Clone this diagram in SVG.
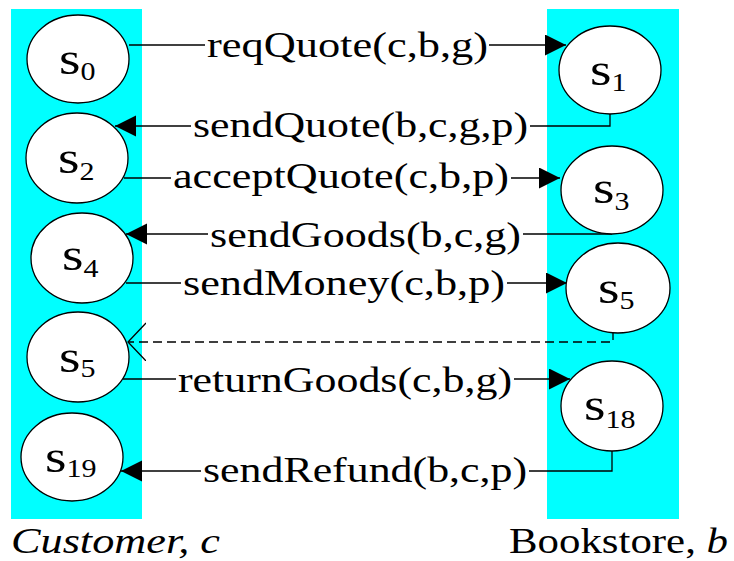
<svg xmlns="http://www.w3.org/2000/svg" width="734" height="561" viewBox="0 0 734 561" font-family="'Liberation Serif', 'Times New Roman', serif">
  <style>
    .lane { fill: #00ffff; }
    .state { fill: #ffffff; stroke: #000000; stroke-width: 1.3; }
    .sv { font-family: 'Liberation Serif', 'Times New Roman', serif; font-size: 46px; fill: #000; }
    .sub { font-size: 25px; }
    .lbl { font-family: 'Liberation Serif', 'Times New Roman', serif; font-size: 36px; fill: #000; }
    .edge { fill: none; stroke: #000000; stroke-width: 1.3; }
    .dash { stroke-dasharray: 9 5; }
  </style>
  <defs>
    <marker id="solidHead" markerUnits="userSpaceOnUse" markerWidth="22" markerHeight="22" refX="21" refY="10.5" orient="auto">
      <path d="M0,0 L21,10.5 L0,21 Z" fill="#000"/>
    </marker>
    <marker id="openHead" markerUnits="userSpaceOnUse" markerWidth="22" markerHeight="40" refX="18" refY="19" orient="auto">
      <path d="M0,0 L18,19 L0,38" fill="none" stroke="#000" stroke-width="1.3" stroke-dasharray="none"/>
    </marker>
  </defs>

  <!-- swim lanes -->
  <rect class="lane" x="11" y="9" width="131" height="510"/>
  <rect class="lane" x="547" y="9" width="132" height="510"/>

  <!-- messages -->
  <g id="connectors">
    <path class="edge" d="M129,45 H205"/>
    <path class="edge" d="M489,45 H566" marker-end="url(#solidHead)"/>
    <text class="lbl" x="207" y="57" textLength="281" lengthAdjust="spacingAndGlyphs">reqQuote(c,b,g)</text>

    <path class="edge" d="M610,114 V126 H530"/>
    <path class="edge" d="M191,126 H115" marker-end="url(#solidHead)"/>
    <text class="lbl" x="193" y="137" textLength="335" lengthAdjust="spacingAndGlyphs">sendQuote(b,c,g,p)</text>

    <path class="edge" d="M124,178 H171"/>
    <path class="edge" d="M511,178 H560" marker-end="url(#solidHead)"/>
    <text class="lbl" x="173" y="188" textLength="336" lengthAdjust="spacingAndGlyphs">acceptQuote(c,b,p)</text>

    <path class="edge" d="M612,234 H523"/>
    <path class="edge" d="M208,234 H126" marker-end="url(#solidHead)"/>
    <text class="lbl" x="210" y="247" textLength="311" lengthAdjust="spacingAndGlyphs">sendGoods(b,c,g)</text>

    <path class="edge" d="M126,283 H181"/>
    <path class="edge" d="M507,283 H567" marker-end="url(#solidHead)"/>
    <text class="lbl" x="183" y="295" textLength="322" lengthAdjust="spacingAndGlyphs">sendMoney(c,b,p)</text>

    <path class="edge dash" d="M613,331 V342 H128" marker-end="url(#openHead)"/>

    <path class="edge" d="M123,379 H176"/>
    <path class="edge" d="M514,379 H570" marker-end="url(#solidHead)"/>
    <text class="lbl" x="178" y="392" textLength="334" lengthAdjust="spacingAndGlyphs">returnGoods(c,b,g)</text>

    <path class="edge" d="M612,451 V471 H529"/>
    <path class="edge" d="M201,471 H121" marker-end="url(#solidHead)"/>
    <text class="lbl" x="203" y="482" textLength="324" lengthAdjust="spacingAndGlyphs">sendRefund(b,c,p)</text>
  </g>

  <!-- customer states (labels widened to the drawing's aspect) -->
  <g id="s0">
    <ellipse class="state" cx="78" cy="59" rx="51" ry="44"/>
    <text class="sv" transform="translate(59,74) scale(1.2,1)">s<tspan class="sub" dy="6">0</tspan></text>
  </g>
  <g id="s2">
    <ellipse class="state" cx="77" cy="158" rx="51" ry="45"/>
    <text class="sv" transform="translate(58,173) scale(1.2,1)">s<tspan class="sub" dy="7">2</tspan></text>
  </g>
  <g id="s4">
    <ellipse class="state" cx="82" cy="258" rx="51" ry="45"/>
    <text class="sv" transform="translate(62,270) scale(1.2,1)">s<tspan class="sub" dy="7">4</tspan></text>
  </g>
  <g id="s5c">
    <ellipse class="state" cx="78" cy="357" rx="51" ry="45"/>
    <text class="sv" transform="translate(59,372) scale(1.2,1)">s<tspan class="sub" dy="5">5</tspan></text>
  </g>
  <g id="s19">
    <ellipse class="state" cx="72" cy="457" rx="51" ry="44"/>
    <text class="sv" transform="translate(45,472) scale(1.2,1)">s<tspan class="sub" dy="5">19</tspan></text>
  </g>

  <!-- bookstore states -->
  <g id="s1">
    <ellipse class="state" cx="610" cy="70" rx="51" ry="44"/>
    <text class="sv" transform="translate(590,85) scale(1.2,1)">s<tspan class="sub" dy="6">1</tspan></text>
  </g>
  <g id="s3">
    <ellipse class="state" cx="612" cy="190" rx="51" ry="44"/>
    <text class="sv" transform="translate(593,203) scale(1.2,1)">s<tspan class="sub" dy="7">3</tspan></text>
  </g>
  <g id="s5b">
    <ellipse class="state" cx="618" cy="288" rx="52" ry="45"/>
    <text class="sv" transform="translate(598,303) scale(1.2,1)">s<tspan class="sub" dy="6">5</tspan></text>
  </g>
  <g id="s18">
    <ellipse class="state" cx="612" cy="406" rx="51" ry="45"/>
    <text class="sv" transform="translate(584,420) scale(1.2,1)">s<tspan class="sub" dy="8">18</tspan></text>
  </g>

  <!-- role captions -->
  <text class="lbl" x="11" y="553" font-style="italic" textLength="209" lengthAdjust="spacingAndGlyphs">Customer, c</text>
  <text class="lbl" x="509" y="553" textLength="219" lengthAdjust="spacingAndGlyphs">Bookstore, <tspan font-style="italic">b</tspan></text>
</svg>
